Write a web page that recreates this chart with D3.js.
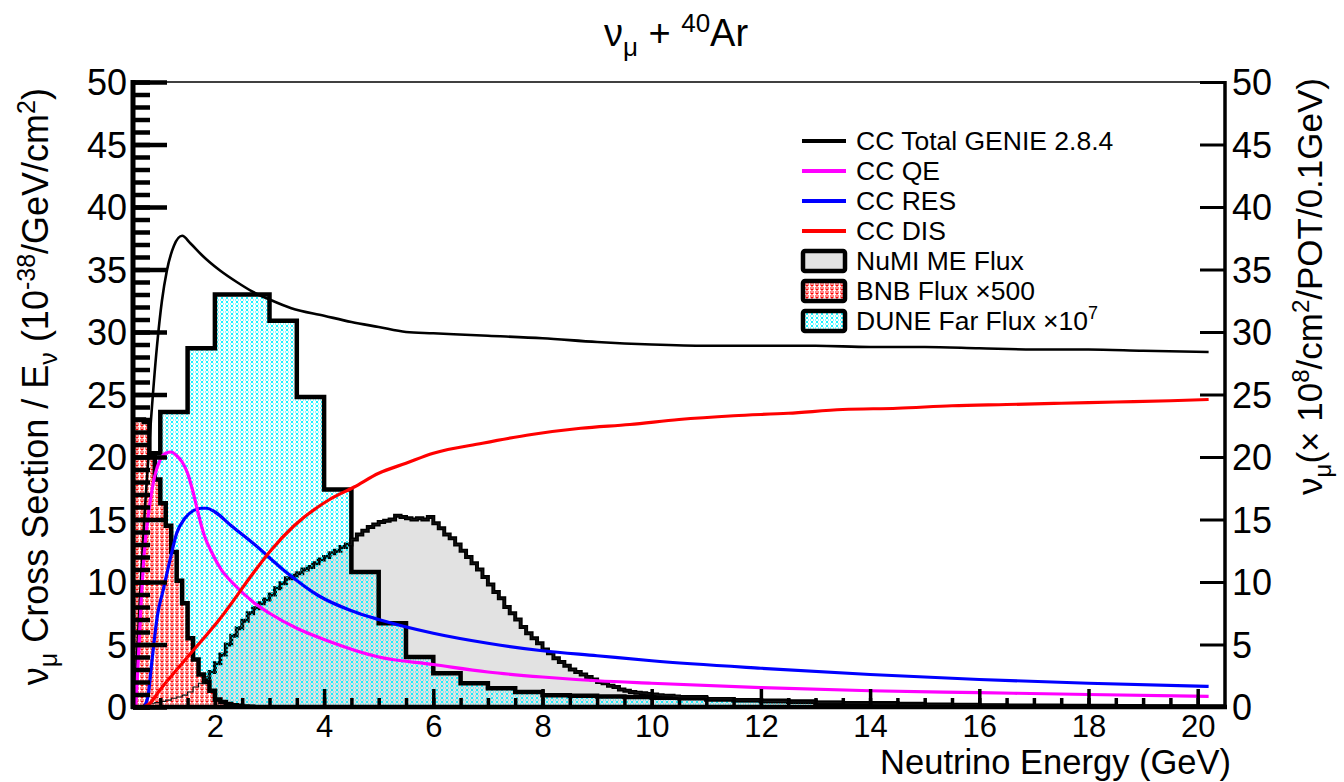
<!DOCTYPE html>
<html><head><meta charset="utf-8">
<script src="https://cdn.jsdelivr.net/npm/d3@7"></script>
<style>html,body{margin:0;padding:0;background:#fff;} svg{display:block;font-family:"Liberation Sans",Arial,Helvetica,sans-serif;}</style>
</head><body><svg id="chart" width="1344" height="782"></svg>
<script>
// ---------------- data ----------------
// Cross-section curves (left axis, 1e-38 cm^2/GeV)
const totE = [0.55,0.63,0.72,0.81,0.94,1.03,1.12,1.25,1.4,1.55,1.75,1.9,2.1,2.4,2.7,3.0,3.4,4.0,4.5,5.0,5.5,6.0,7.0,8.0,9.0,10.0,11.0,12.0,13.0,14.0,15.0,16.0,17.0,18.0,19.0,20.2];
const totV = [2,9,16,21.8,28.9,32.5,34.9,36.9,37.7,37.1,36.2,35.6,34.9,34.0,33.2,32.6,31.9,31.3,30.8,30.4,30.0,29.9,29.7,29.5,29.2,29.0,28.9,28.9,28.9,28.8,28.8,28.7,28.6,28.6,28.5,28.4];
const qeE = [0.55,0.6,0.65,0.7,0.8,0.9,1.0,1.1,1.2,1.3,1.4,1.5,1.6,1.7,1.8,1.95,2.1,2.4,2.7,3.0,3.5,4.0,5.0,6.0,7.0,8.0,9.0,10.0,12.0,14.0,16.0,18.0,20.2];
const qeV = [0,4,8.5,12,16,18.5,19.8,20.3,20.4,20.1,19.6,18.7,17.2,15.4,13.8,12.3,11.1,9.6,8.4,7.5,6.3,5.4,4.0,3.4,2.8,2.4,2.1,1.9,1.55,1.3,1.15,1.0,0.85];
const resE = [0.7,0.78,0.83,0.88,0.95,1.05,1.18,1.3,1.45,1.6,1.75,1.85,2.0,2.3,2.7,3.3,3.9,4.5,5.0,6.0,7.0,8.0,9.0,10.0,12.0,14.0,16.0,18.0,20.2];
const resV = [0,1,3,5,7.4,9.3,11.8,13.9,15.1,15.7,15.9,15.9,15.6,14.5,13.1,10.8,8.9,7.7,7.0,5.9,5.1,4.5,4.1,3.7,3.1,2.6,2.2,1.9,1.65];
const disE = [0.7,0.81,1.0,1.5,2.1,2.7,3.0,3.45,4.1,4.55,5.0,5.5,6.0,6.9,7.8,8.7,9.6,10.5,11.5,12.5,13.5,14.5,15.5,16.5,17.5,18.5,19.5,20.2];
const disV = [0,0.3,1.4,4.0,7.1,10.7,12.4,14.5,16.6,17.6,18.7,19.5,20.3,21.1,21.8,22.3,22.6,23.0,23.3,23.5,23.8,23.9,24.1,24.2,24.3,24.4,24.5,24.6];

// Flux histograms (right axis)
const numiFineLow = 0.5, numiFineWidth = 0.1;
const numiFine = [0.05,0.1,0.2,0.3,0.35, 0.45,0.55,0.7,0.8,0.95, 1.2,1.6,1.9,2.3,2.8, 3.5,4.2,5.0,5.7,6.3,
  6.9,7.5,7.9,8.3,8.6, 9.0,9.5,9.9,10.3,10.5, 10.7,11.0,11.2,11.5,11.8, 12.0,12.3,12.5,12.8,13.0,
  13.4,13.8,14.1,14.4,14.6, 14.8,14.9,15.0,15.3,15.2, 15.1,15.0,15.1,15.0,15.2, 14.7,14.3,13.8,13.5,13.0,
  12.5,12.0,11.5,11.0,10.4, 9.8,9.2,8.7,8.0,7.5, 7.0,6.4,5.9,5.5,5.1, 4.6,4.3,3.9,3.6,3.3,
  3.0,2.8,2.6,2.4,2.2, 2.0,1.9,1.7,1.6,1.4, 1.3,1.2,1.15,1.1,1.05, 1.0,0.95,0.9,0.9,0.85];
const numiTailLow = 10.5, numiTailWidth = 0.5;
const numiTail = [0.8,0.65,0.55,0.45,0.4,0.35,0.3,0.25,0.22,0.2,0.18,0.15,0.13,0.12,0.1,0.1,0.08,0.07,0.06,0.05];
const bnbLow = 0.5, bnbWidth = 0.1;
const bnbVals = [23.0,23.0,22.8,20.0,18.2,16.3,14.5,12.4,10.1,8.3,5.5,3.8,2.6,2.0,1.3,0.6,0.4,0.25,0.15,0.1,0.05,0.03];
const duneLow = 0.5, duneWidth = 0.5;
const duneVals = [20.3,23.6,28.7,33.0,33.0,30.9,24.8,17.4,10.8,6.7,4.0,2.7,1.9,1.5,1.2,0.95,0.9,0.85,0.8,0.75,
  0.7,0.6,0.55,0.5,0.45,0.35,0.3,0.3,0.25,0.1,0.1,0.08,0.07,0.06,0.05,0.05,0.04,0.03,0.03,0.02];

const yTicks = [0,5,10,15,20,25,30,35,40,45,50];
const xTicks = [2,4,6,8,10,12,14,16,18,20];
const legendLabels = ["CC Total GENIE 2.8.4","CC QE","CC RES","CC DIS","NuMI ME Flux","BNB Flux \u00d7500","DUNE Far Flux \u00d710"];

// ---------------- drawing ----------------
const svg = d3.select("#chart");
const x = d3.scaleLinear().domain([0.5, 20.5]).range([133, 1225]);
const y = d3.scaleLinear().domain([0, 50]).range([707, 82]);
const yR = d3.scaleLinear().domain([0, 50]).range([707, 82]);

const defs = svg.append("defs");
defs.append("clipPath").attr("id","plotclip").append("rect")
  .attr("x",133).attr("y",82).attr("width",1092).attr("height",625);
function hatch(id, color, sw){
  const p = defs.append("pattern").attr("id",id).attr("patternUnits","userSpaceOnUse")
    .attr("width",5).attr("height",4);
  p.append("path").attr("d","M0.5,0.5 L3.5,3.5 M3.5,0.5 L0.5,3.5")
    .attr("stroke",color).attr("stroke-width",sw).attr("fill","none");
  return p;
}
hatch("cyanHatch","#00f0ff",0.9);
hatch("redHatch","#ff0000",1.25);

const plot = svg.append("g").attr("clip-path","url(#plotclip)");

function stepPoints(segs){
  const pts = [[segs[0].lo, 0]];
  segs.forEach(s => s.vals.forEach((v,i) => {
    pts.push([s.lo + i*s.w, v]); pts.push([s.lo + (i+1)*s.w, v]);
  }));
  const last = segs[segs.length-1];
  pts.push([last.lo + last.vals.length*last.w, 0]);
  return pts;
}
const hLine = d3.line().x(d => x(d[0])).y(d => yR(d[1]));

const numiPts = stepPoints([{lo:numiFineLow,w:numiFineWidth,vals:numiFine},{lo:numiTailLow,w:numiTailWidth,vals:numiTail}]);
const dunePts = stepPoints([{lo:duneLow,w:duneWidth,vals:duneVals}]);
const bnbPts = stepPoints([{lo:bnbLow,w:bnbWidth,vals:bnbVals}]);

// NuMI
plot.append("path").attr("d", hLine(numiPts)+"Z").attr("fill","#e2e2e2").attr("stroke","none");
plot.append("path").attr("d", hLine(numiPts)).attr("fill","none").attr("stroke","#000").attr("stroke-width",4).attr("stroke-linejoin","miter");
// DUNE
plot.append("path").attr("d", hLine(dunePts)+"Z").attr("fill","url(#cyanHatch)").attr("stroke","none");
plot.append("path").attr("d", hLine(dunePts)).attr("fill","none").attr("stroke","#000").attr("stroke-width",4.5);
// BNB
plot.append("path").attr("d", hLine(bnbPts)+"Z").attr("fill","#fff");
plot.append("path").attr("d", hLine(bnbPts)+"Z").attr("fill","url(#redHatch)");
plot.append("path").attr("d", hLine(bnbPts)).attr("fill","none").attr("stroke","#000").attr("stroke-width",4.5);
// thin NuMI overlay
plot.append("path").attr("d", hLine(numiPts)).attr("fill","none").attr("stroke","#111").attr("stroke-width",1.2);

// Curves
const cLine = d3.line().x(d => x(d[0])).y(d => y(d[1])).curve(d3.curveMonotoneX);
function curve(E, V, color, w){
  plot.append("path").attr("d", cLine(E.map((e,i)=>[e,V[i]])))
    .attr("fill","none").attr("stroke",color).attr("stroke-width",w).attr("stroke-linejoin","round");
}
curve(totE, totV, "#000", 2.6);
curve(resE, resV, "#0000ff", 3.2);
curve(qeE, qeV, "#ff00ff", 3.2);
curve(disE, disV, "#ff0000", 3.2);

// ---------------- axes ----------------
const axisFont = 36;
svg.append("line").attr("x1",133).attr("x2",1225).attr("y1",82).attr("y2",82).attr("stroke","#000").attr("stroke-width",1.3);

// left axis
const gL = svg.append("g").attr("transform","translate(133,0)");
gL.call(d3.axisLeft(y).tickValues(d3.range(0,51,1)).tickSize(-17).tickFormat("").tickSizeOuter(0));
gL.selectAll(".tick line").attr("stroke-width",4.5);
const gL2 = svg.append("g").attr("transform","translate(133,0)");
gL2.call(d3.axisLeft(y).tickValues(yTicks).tickSize(-34).tickPadding(6).tickSizeOuter(0));
gL2.selectAll(".tick line").attr("stroke-width",4.5);
gL2.selectAll("text").attr("font-size",axisFont).attr("font-family","Liberation Sans, Arial, sans-serif").attr("fill","#000").attr("dy","0.36em");
svg.selectAll(".domain").remove();
svg.append("line").attr("x1",133).attr("x2",133).attr("y1",80).attr("y2",709).attr("stroke","#000").attr("stroke-width",5);

// right axis
const gR = svg.append("g").attr("transform","translate(1225,0)");
gR.call(d3.axisRight(yR).tickValues(yTicks).tickSize(-25).tickPadding(7).tickSizeOuter(0));
gR.selectAll(".tick line").attr("stroke-width",3);
gR.selectAll("text").attr("font-size",axisFont).attr("font-family","Liberation Sans, Arial, sans-serif").attr("fill","#000").attr("dy","0.36em");
gR.select(".domain").remove();
svg.append("line").attr("x1",1225).attr("x2",1225).attr("y1",81).attr("y2",709).attr("stroke","#000").attr("stroke-width",3.5);

// bottom axis
const gB1 = svg.append("g").attr("transform","translate(0,707)");
gB1.call(d3.axisBottom(x).tickValues(d3.range(1,20.01,0.5)).tickSize(-9).tickFormat("").tickSizeOuter(0));
gB1.selectAll(".tick line").attr("stroke-width",3.5);
gB1.select(".domain").remove();
const gB = svg.append("g").attr("transform","translate(0,707)");
gB.call(d3.axisBottom(x).tickValues(xTicks).tickSize(-18).tickPadding(8).tickSizeOuter(0));
gB.selectAll(".tick line").attr("stroke-width",3.5);
gB.selectAll("text").attr("font-size",31).attr("font-family","Liberation Sans, Arial, sans-serif").attr("fill","#000");
gB.select(".domain").remove();
svg.append("line").attr("x1",131).attr("x2",1227).attr("y1",707).attr("y2",707).attr("stroke","#000").attr("stroke-width",4.5);

// ---------------- titles ----------------
const t = svg.append("text").attr("x",676).attr("y",46).attr("text-anchor","middle").attr("font-size",38);
t.append("tspan").text("\u03bd");
t.append("tspan").attr("font-size",26).attr("dy",10).text("\u03bc");
t.append("tspan").attr("dy",-10).text(" + ");
t.append("tspan").attr("font-size",26).attr("dy",-14).text("40");
t.append("tspan").attr("dy",14).text("Ar");

svg.append("text").attr("x",1231).attr("y",774).attr("text-anchor","end").attr("font-size",34.5).text("Neutrino Energy (GeV)");

const yl = svg.append("text").attr("transform","translate(48,88) rotate(-90)").attr("text-anchor","end").attr("font-size",36);
yl.append("tspan").text("\u03bd");
yl.append("tspan").attr("font-size",25).attr("dy",9).text("\u03bc");
yl.append("tspan").attr("dy",-9).text(" Cross Section / E");
yl.append("tspan").attr("font-size",25).attr("dy",9).text("\u03bd");
yl.append("tspan").attr("dy",-9).text(" (10");
yl.append("tspan").attr("font-size",25).attr("dy",-13).text("-38");
yl.append("tspan").attr("dy",13).text("/GeV/cm");
yl.append("tspan").attr("font-size",25).attr("dy",-13).text("2");
yl.append("tspan").attr("dy",13).text(")");

const yr = svg.append("text").attr("transform","translate(1322,78) rotate(-90)").attr("text-anchor","end").attr("font-size",35);
yr.append("tspan").text("\u03bd");
yr.append("tspan").attr("font-size",24).attr("dy",9).text("\u03bc");
yr.append("tspan").attr("dy",-9).text("(\u00d7 10");
yr.append("tspan").attr("font-size",24).attr("dy",-13).text("8");
yr.append("tspan").attr("dy",13).text("/cm");
yr.append("tspan").attr("font-size",24).attr("dy",-13).text("2");
yr.append("tspan").attr("dy",13).text("/POT/0.1GeV)");

// ---------------- legend ----------------
const lg = svg.append("g");
const lineColors = ["#000","#ff00ff","#0000ff","#ff0000"];
const rowY = [141,171,201,231,261,291,321];
lineColors.forEach((c,i) => {
  lg.append("line").attr("x1",802).attr("x2",846).attr("y1",rowY[i]).attr("y2",rowY[i]).attr("stroke",c).attr("stroke-width",4);
});
const boxFills = [["#e2e2e2"],["#fff","url(#redHatch)"],["url(#cyanHatch)"]];
boxFills.forEach((fs,j) => {
  const cy = rowY[4+j];
  fs.forEach(f => lg.append("rect").attr("x",803).attr("y",cy-10).attr("width",42).attr("height",20).attr("fill",f));
  lg.append("rect").attr("x",803).attr("y",cy-10).attr("width",42).attr("height",20).attr("rx",2)
    .attr("fill","none").attr("stroke","#000").attr("stroke-width",4.5);
});
legendLabels.forEach((s,i) => {
  const tx = lg.append("text").attr("x",856).attr("y",rowY[i]+9).attr("font-size",26.5).text(s);
  if(i===6) tx.append("tspan").attr("font-size",18).attr("dy",-11).text("7");
});
</script></body></html>
